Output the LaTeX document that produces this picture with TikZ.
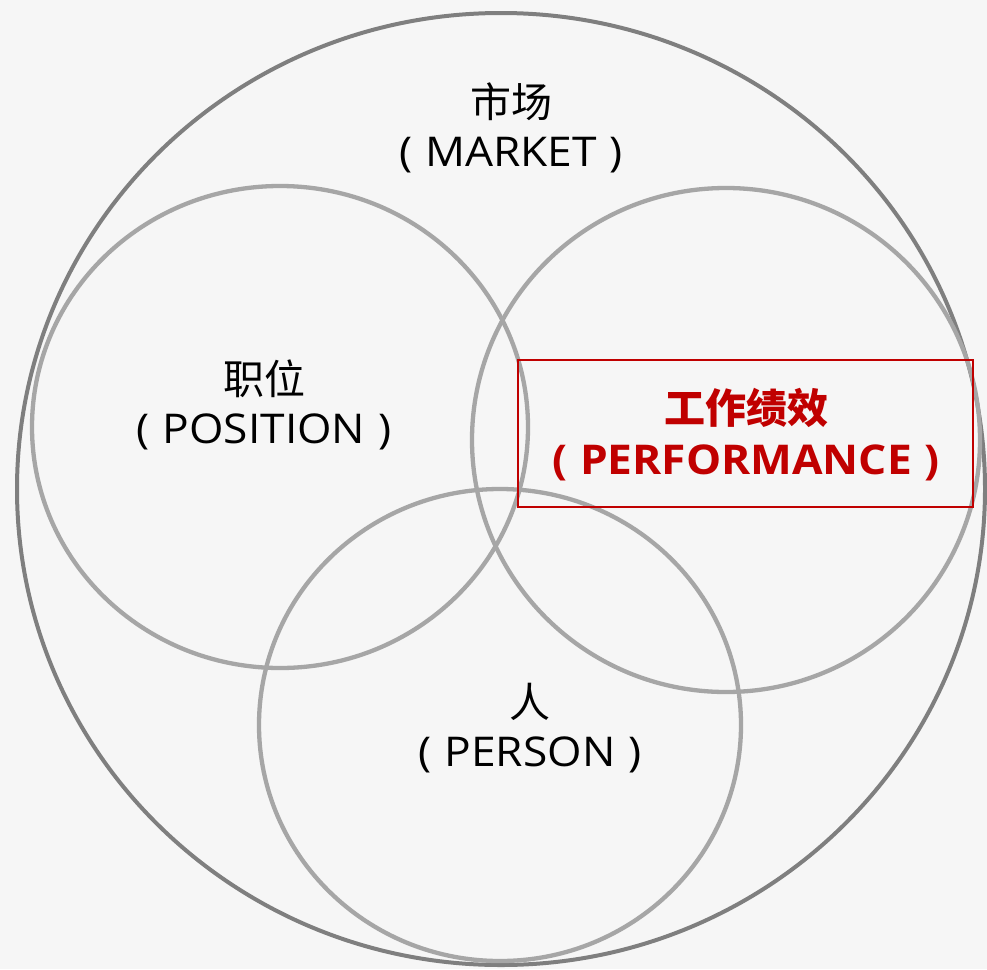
\documentclass[tikz,border=0pt]{standalone}
\usepackage{fontspec}
\setmainfont{Noto Sans CJK SC}
\newfontfamily\latinf[FakeStretch=1.08]{Open Sans}
\definecolor{bgc}{HTML}{F6F6F6}
\definecolor{outerc}{HTML}{7F7F7F}
\definecolor{innerc}{HTML}{A6A6A6}
\definecolor{redc}{HTML}{C00000}
\newcommand{\enl}[1]{{\latinf\fontsize{41}{49}\selectfont (\hspace{13pt}#1\hspace{13pt})}}
\begin{document}
\begin{tikzpicture}[x=1pt,y=-1pt,
  outerring/.style={draw=outerc,line width=4pt},
  innerring/.style={draw=innerc,line width=4.3pt},
  lbl/.style={align=center,inner sep=0pt,text=black,font=\fontsize{41}{49}\selectfont},
  redlbl/.style={align=center,inner sep=0pt,text=redc,font=\bfseries\fontsize{41}{51}\selectfont}]
\fill[bgc] (0,0) rectangle (987,969);
\useasboundingbox (0,0) rectangle (987,969);
\draw[outerring] (501,489) ellipse (484 and 476);
\draw[innerring] (280,427) ellipse (248 and 241);
\draw[innerring] (726,440) ellipse (254 and 252);
\draw[innerring] (500,725) ellipse (241 and 236);
\draw[redc,line width=2pt] (518,360) rectangle (973,507);
\node[lbl] (market) at (511,128) {市场\\\enl{MARKET}};
\node[lbl] (position) at (264,405) {职位\\\enl{POSITION}};
\node[lbl] (person) at (530,728) {人\\\enl{PERSON}};
\node[redlbl] (perf) at (746,435) {工作绩效\\{\bfseries\enl{PERFORMANCE}}};
\end{tikzpicture}
\end{document}
